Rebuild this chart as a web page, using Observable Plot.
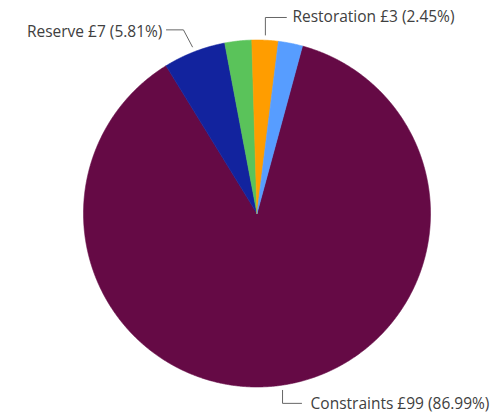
<!DOCTYPE html>
<html><head><meta charset="utf-8">
<script src="https://cdn.jsdelivr.net/npm/d3@7"></script>
<script src="https://cdn.jsdelivr.net/npm/@observablehq/plot@0.6"></script>
<style>body{margin:0;background:#fff}</style>
</head><body><div id="chart"></div>
<script>
// ---- data ----
const categories = ["Constraints", "Reserve", "Other 1", "Restoration", "Other 2"];
const amounts = [99, 7, 3, 3, 3];
const percents = [86.99, 5.81, 2.50, 2.45, 2.25];
const colors = ["#650A45", "#12239E", "#5AC35A", "#FF9D00", "#579DFF"];
const labelled = ["Reserve", "Restoration", "Constraints"];

// ---- layout ----
const W = 492, H = 416;
const cx = 256.5, cy = 213, R = 173.5;
const startDeg = 15.2;
const leaderLayout = {
  Reserve:     {r: 1.03, dx: -9, dy: -17, hx: -17, gap: 4, ty: 2},
  Restoration: {r: 1.03, dx: 0,  dy: -17.5, hx: 21, gap: 6, ty: 0},
  Constraints: {r: 1.03, dx: 0,  dy: 13, hx: 19, gap: 9, ty: 1}
};

const pie = d3.pie().sort(null).value(d => d.pct)
  .startAngle(startDeg * Math.PI / 180)
  .endAngle(startDeg * Math.PI / 180 + 2 * Math.PI);
const rows = categories.map((c, i) => ({key: c, amount: amounts[i], pct: percents[i]}));
const arcs = pie(rows);

const slicePts = [];
for (const a of arcs) {
  const key = a.data.key;
  slicePts.push({key, x: 0, y: 0});
  const n = Math.max(4, Math.ceil((a.endAngle - a.startAngle) / 0.005));
  for (let j = 0; j <= n; j++) {
    const t = a.startAngle + (a.endAngle - a.startAngle) * j / n;
    slicePts.push({key, x: Math.sin(t), y: Math.cos(t)});
  }
  slicePts.push({key, x: 0, y: 0});
}

const leaderPts = [];
const labels = [];
for (const a of arcs) {
  const key = a.data.key;
  if (!labelled.includes(key)) continue;
  const L = leaderLayout[key];
  const m = (a.startAngle + a.endAngle) / 2;
  const p0 = {x: L.r * Math.sin(m), y: L.r * Math.cos(m)};
  const p1 = {x: p0.x + L.dx / R, y: p0.y - L.dy / R};
  const p2 = {x: p1.x + L.hx / R, y: p1.y};
  leaderPts.push({key, ...p0}, {key, ...p1}, {key, ...p2});
  labels.push({
    key,
    x: p2.x + Math.sign(L.hx) * L.gap / R,
    y: p2.y - L.ty / R,
    anchor: L.hx < 0 ? "end" : "start",
    text: `${key} £${a.data.amount} (${a.data.pct.toFixed(2)}%)`
  });
}

const chart = Plot.plot({
  width: W, height: H,
  margin: 0,
  x: {domain: [-cx / R, (W - cx) / R], axis: null},
  y: {domain: [-(H - cy) / R, cy / R], axis: null},
  color: {domain: categories, range: colors},
  style: {background: "#fff", fontFamily: "'Open Sans', sans-serif"},
  marks: [
    Plot.line(slicePts, {x: "x", y: "y", z: "key", fill: "key", stroke: "key", strokeWidth: 0.6}),
    Plot.line(leaderPts, {x: "x", y: "y", z: "key", stroke: "#666", strokeWidth: 1}),
    Plot.text(labels.filter(d => d.anchor === "end"), {x: "x", y: "y", text: "text", textAnchor: "end", fontSize: 15.5, fill: "#404040"}),
    Plot.text(labels.filter(d => d.anchor === "start"), {x: "x", y: "y", text: "text", textAnchor: "start", fontSize: 15.5, fill: "#404040"})
  ]
});
document.getElementById("chart").appendChild(chart);
</script>
</body></html>
